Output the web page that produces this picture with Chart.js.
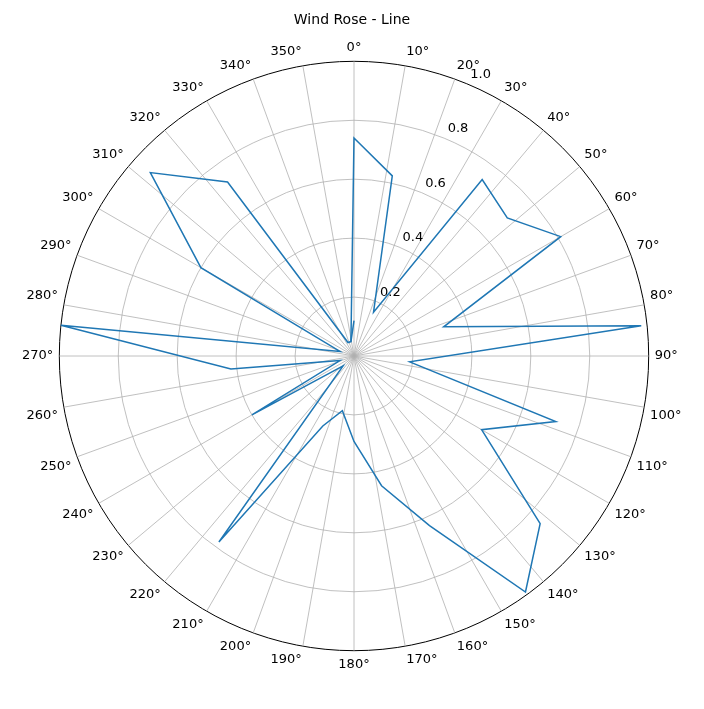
<!DOCTYPE html>
<html><head><meta charset="utf-8">
<script src="https://cdn.jsdelivr.net/npm/chart.js@4"></script>
<style>html,body{margin:0;padding:0;background:#fff}#w{width:704px;height:709px}</style>
</head><body><div id="w"><canvas id="c"></canvas></div>
<script>
const directions = [0,12,24,36,48,60,72,84,96,108,120,132,144,156,168,180,192,204,216,228,240,252,264,276,288,300,312,324,336,348,360];
const speeds = [0.74,0.625,0.163,0.74,0.70,0.81,0.32,0.98,0.19,0.72,0.50,0.85,0.99,0.63,0.45,0.29,0.19,0.26,0.78,0.05,0.40,0.05,0.42,1.0,0.05,0.60,0.93,0.73,0.05,0.05,0.12];
const rTicks = [0.2,0.4,0.6,0.8,1.0];
const STEP = 2;
const N = 360/STEP;
const labels = [];
for (let i=0;i<N;i++) labels.push((i*STEP)%10===0 ? (i*STEP)+'°' : '');
const main = new Array(N).fill(null);
for (let k=0;k<directions.length-1;k++) main[directions[k]/STEP] = speeds[k];
const lastIdx = directions[directions.length-2]/STEP;
const closing = new Array(N).fill(null);
closing[lastIdx] = speeds[speeds.length-2];
closing[0] = speeds[speeds.length-1];
const blue = '#1f77b4';
const tickPlugin = {
  id:'ticks',
  afterDraw(chart){
    const s = chart.scales.r, ctx = chart.ctx;
    ctx.save();
    ctx.font = '13px "DejaVu Sans"';
    ctx.fillStyle = '#000';
    ctx.textAlign='center'; ctx.textBaseline='middle';
    const a = (22.5-90)*Math.PI/180;
    rTicks.forEach(v=>{
      const d = s.getDistanceFromCenterForValue(v)+10;
      ctx.fillText(v.toFixed(1), s.xCenter+Math.cos(a)*d+10, s.yCenter+Math.sin(a)*d);
    });
    ctx.restore();
  }
};
new Chart(document.getElementById('c'), {
  type:'radar',
  data:{labels, datasets:[
    {data:main, borderColor:blue, borderWidth:1.5, pointRadius:0, fill:false, spanGaps:true,
     segment:{borderColor:c=> (c.p1DataIndex===0 ? 'rgba(0,0,0,0)' : blue)}},
    {data:closing, borderColor:blue, borderWidth:1.5, pointRadius:0, fill:false, spanGaps:true}
  ]},
  options:{
    responsive:true, maintainAspectRatio:false, animation:false,
    layout:{padding:{top:18,bottom:26,left:20,right:20}},
    plugins:{legend:{display:false}, tooltip:{enabled:false},
      title:{display:true, text:'Wind Rose - Line', color:'#000', font:{family:'DejaVu Sans', size:14, weight:'normal'}, padding:{top:-6,bottom:2}}},
    scales:{r:{min:0,max:1.0,
      ticks:{stepSize:0.2, display:false},
      grid:{circular:true, color:c=> c.index===5 ? '#000' : '#b0b0b0', lineWidth:c=> c.index===5 ? 1 : 0.8},
      angleLines:{color:c=> (c.index*STEP)%10===0 ? '#b0b0b0':'rgba(0,0,0,0)', lineWidth:0.8},
      pointLabels:{color:'#000', font:{family:'DejaVu Sans', size:13}, padding:6}
    }}
  },
  plugins:[tickPlugin]
});
</script></body></html>
